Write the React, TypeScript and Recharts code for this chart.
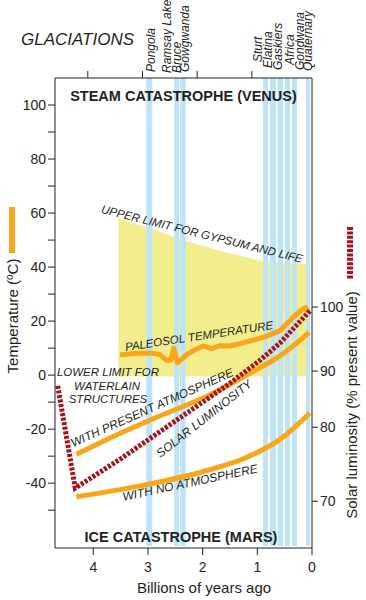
import React from 'react';
import { ComposedChart, Line, Area, XAxis, YAxis, ReferenceArea } from 'recharts';

// ---------- data (x = billions of years ago, y = temperature °C) ----------
const GYPSUM_GA = [3.54, 3.02, 2.41, 1.8, 1.19, 0.83, 0.1];
const GYPSUM_UPPER_T = [58, 54.7, 50.4, 46.7, 43.6, 42, 41.1];
const GYPSUM_LOWER_T = [-0.5, -0.5, -0.5, -0.5, -0.5, -0.5, -0.5];

const PALEOSOL_GA = [3.51, 3.25, 2.96, 2.78, 2.66, 2.58, 2.53, 2.46, 2.3, 2.13, 1.99, 1.84, 1.68, 1.5, 1.25, 0.89, 0.58, 0.34, 0.19, 0.12, 0.07];
const PALEOSOL_T = [7.5, 8, 8.2, 7.6, 5.5, 5.5, 10, 4.5, 7.5, 9.5, 10.8, 9.8, 10.9, 10.8, 12, 14, 16.5, 21.5, 24.2, 25, 23.5];

const PRESENT_ATM_GA = [4.31, 3.74, 2.83, 1.92, 1.0, 0.58, 0.05];
const PRESENT_ATM_T = [-29.3, -23.7, -15.5, -7.8, 2.2, 7.2, 15.8];

const NO_ATM_GA = [4.31, 3.14, 1.92, 1.2, 0.58, 0.04];
const NO_ATM_T = [-45, -41, -35.3, -30.5, -23.7, -14];

const SOLAR_GA = [4.65, 4.33, 3.5, 2.5, 1.5, 0.95, 0.58, 0.04];
const SOLAR_T = [-4, -41.8, -31, -17, -3, 5.5, 12, 23.8];

const GLACIATION_START = [3.03, 2.52, 2.41, 0.895, 0.767, 0.63, 0.493, 0.365, 0.11];
const GLACIATION_END = [2.92, 2.43, 2.31, 0.804, 0.658, 0.53, 0.402, 0.274, 0.037];
const GLACIATION_NAMES = ['Pongola', 'Ramsay Lake', 'Bruce', 'Gowgwanda', 'Sturt', 'Elatina', 'Gaskiers', 'Africa', 'Gondwana', 'Quaternary'];

const AGE_TICKS = [0, 1, 2, 3, 4];
const TOP_TICKS = [4.1, 3.1, 2.1, 1.1];
const TEMP_TICKS = [-50, -40, -30, -20, -10, 0, 10, 20, 30, 40, 50, 60, 70, 80, 90, 100];
const TEMP_LABELED = [-40, -20, 0, 20, 40, 60, 80, 100];
const LUM_LABELS = [100, 90, 80, 70];
const LUM_AT_TEMP = [25.2, 1.5, -19.3, -46.7];

// ---------- built series ----------
const gypsumData = GYPSUM_GA.map((ga, i) => ({ ga, range: [GYPSUM_LOWER_T[i], GYPSUM_UPPER_T[i]] }));
const paleosolData = PALEOSOL_GA.map((ga, i) => ({ ga, t: PALEOSOL_T[i] }));
const presentData = PRESENT_ATM_GA.map((ga, i) => ({ ga, t: PRESENT_ATM_T[i] }));
const noAtmData = NO_ATM_GA.map((ga, i) => ({ ga, t: NO_ATM_T[i] }));
const solarData = SOLAR_GA.map((ga, i) => ({ ga, t: SOLAR_T[i] }));

// ---------- styles ----------
const FONT = '"Liberation Sans", Arial, Helvetica, sans-serif';
const INK = '#231f20';
const ORANGE = '#f9a61b';
const DARK_RED = '#a3141f';
const BAND_BLUE = '#bde4f7';
const YELLOW = '#f3ed8d';
const DOMAIN_T: [number, number] = [-64, 110];
const DOMAIN_GA: [number, number] = [0, 4.7];

// pixel layout of the rotated glaciation labels (baseline x, start y)
const GLACIATION_LABEL_POS = [
  [155, 72], [171, 73], [181, 73], [189, 72],
  [262, 62], [272, 68], [282, 70], [294, 65], [304, 70], [312, 71],
];

const tickStyle = { fontSize: 14, fill: INK, fontFamily: FONT };

export default function App() {
  return (
    <div style={{ position: 'absolute', left: 0, top: 0, width: 366, height: 600, background: '#fff' }}>
      <ComposedChart
        width={366}
        height={600}
        margin={{ top: 48, right: 10, bottom: 22, left: 10 }}
        style={{ fontFamily: FONT }}
      >
        <XAxis
          xAxisId="b"
          dataKey="ga"
          type="number"
          domain={DOMAIN_GA}
          reversed
          ticks={AGE_TICKS}
          interval={0}
          height={30}
          tickSize={7}
          tickMargin={7}
          tick={tickStyle}
          stroke={INK}
          allowDataOverflow
        />
        <XAxis
          xAxisId="t"
          orientation="top"
          dataKey="ga"
          type="number"
          domain={DOMAIN_GA}
          reversed
          ticks={TOP_TICKS}
          interval={0}
          height={30}
          tickSize={7}
          tickFormatter={() => ''}
          stroke={INK}
          allowDataOverflow
        />
        <YAxis
          yAxisId="temp"
          type="number"
          domain={DOMAIN_T}
          ticks={TEMP_TICKS}
          interval={0}
          width={45}
          tickSize={7}
          tickMargin={2}
          tick={tickStyle}
          tickFormatter={(v: number) => (TEMP_LABELED.includes(v) ? String(v) : '')}
          stroke={INK}
          allowDataOverflow
        />
        <YAxis
          yAxisId="lum"
          orientation="right"
          type="number"
          domain={DOMAIN_T}
          ticks={LUM_AT_TEMP}
          interval={0}
          width={44}
          tickSize={6}
          tickMargin={2}
          tick={tickStyle}
          tickFormatter={(v: number) => {
            const i = LUM_AT_TEMP.indexOf(v);
            return i >= 0 ? String(LUM_LABELS[i]) : '';
          }}
          stroke={INK}
          allowDataOverflow
        />

        <Area
          data={gypsumData}
          xAxisId="b"
          yAxisId="temp"
          dataKey="range"
          type="monotone"
          fill={YELLOW}
          fillOpacity={1}
          stroke="none"
          isAnimationActive={false}
          zIndex={100}
        />

        {GLACIATION_START.map((s, i) => (
          <ReferenceArea
            key={i}
            xAxisId="b"
            yAxisId="temp"
            x1={s}
            x2={GLACIATION_END[i]}
            y1={-63.3}
            y2={110}
            fill={BAND_BLUE}
            fillOpacity={1}
            stroke="none"
            zIndex={150}
          />
        ))}

        <Line data={noAtmData} xAxisId="b" yAxisId="temp" dataKey="t" type="monotone" stroke={ORANGE} strokeWidth={5} dot={false} isAnimationActive={false} />
        <Line data={presentData} xAxisId="b" yAxisId="temp" dataKey="t" type="monotone" stroke={ORANGE} strokeWidth={5} dot={false} isAnimationActive={false} />
        <Line data={paleosolData} xAxisId="b" yAxisId="temp" dataKey="t" type="linear" stroke={ORANGE} strokeWidth={5} strokeLinejoin="round" dot={false} isAnimationActive={false} />
        <Line data={solarData} xAxisId="b" yAxisId="temp" dataKey="t" type="linear" stroke={DARK_RED} strokeWidth={5} strokeDasharray="3 1.6" dot={false} isAnimationActive={false} />
      </ComposedChart>

      <svg width={366} height={600} style={{ position: 'absolute', left: 0, top: 0, pointerEvents: 'none' }} fontFamily={FONT} fill={INK}>
        <text x={21} y={44.5} fontSize={17} fontStyle="italic">GLACIATIONS</text>
        {GLACIATION_NAMES.map((n, i) => {
          const [x, y] = GLACIATION_LABEL_POS[i];
          return (
            <text key={n} x={x} y={y} fontSize={12} fontStyle="italic" transform={`rotate(-90 ${x} ${y})`}>{n}</text>
          );
        })}

        <text x={183.5} y={101} fontSize={14.5} fontWeight="bold" textAnchor="middle">STEAM CATASTROPHE (VENUS)</text>
        <text x={181} y={542} fontSize={14.5} fontWeight="bold" textAnchor="middle">ICE CATASTROPHE (MARS)</text>

        <g fontSize={11.5} fontStyle="italic" textAnchor="middle">
          <text x={202} y={234} dy="0.35em" transform="rotate(14 202 234)">UPPER LIMIT FOR GYPSUM AND LIFE</text>
          <text x={199} y={336} dy="0.35em" transform="rotate(-8.5 199 336)">PALEOSOL TEMPERATURE</text>
          <text x={108} y={372} dy="0.35em">LOWER LIMIT FOR</text>
          <text x={107} y={385.5} dy="0.35em">WATERLAIN</text>
          <text x={108} y={399} dy="0.35em">STRUCTURES</text>
          <text x={152} y={407.5} dy="0.35em" fontSize={12} transform="rotate(-24 152 407.5)">WITH PRESENT ATMOSPHERE</text>
          <text x={204} y={418.5} dy="0.35em" fontSize={12} transform="rotate(-38 204 418.5)">SOLAR LUMINOSITY</text>
          <text x={190} y={482.5} dy="0.35em" fontSize={12} transform="rotate(-12 190 482.5)">WITH NO ATMOSPHERE</text>
        </g>

        <text x={13} y={316} dy="0.35em" fontSize={15} textAnchor="middle" transform="rotate(-90 13 316)">
          Temperature (<tspan dy={-5} fontSize={10}>o</tspan><tspan dy={5}>C)</tspan>
        </text>
        <text x={352} y={405} dy="0.35em" fontSize={15} textAnchor="middle" transform="rotate(-90 352 405)">
          Solar luminosity (% present value)
        </text>
        <text x={204} y={588} dy="0.35em" fontSize={15} textAnchor="middle">Billions of years ago</text>

        <rect x={9} y={207} width={6} height={46} fill={ORANGE} />
        <line x1={350} y1={227} x2={350} y2={279} stroke={DARK_RED} strokeWidth={6} strokeDasharray="3 1.4" />
      </svg>
    </div>
  );
}
